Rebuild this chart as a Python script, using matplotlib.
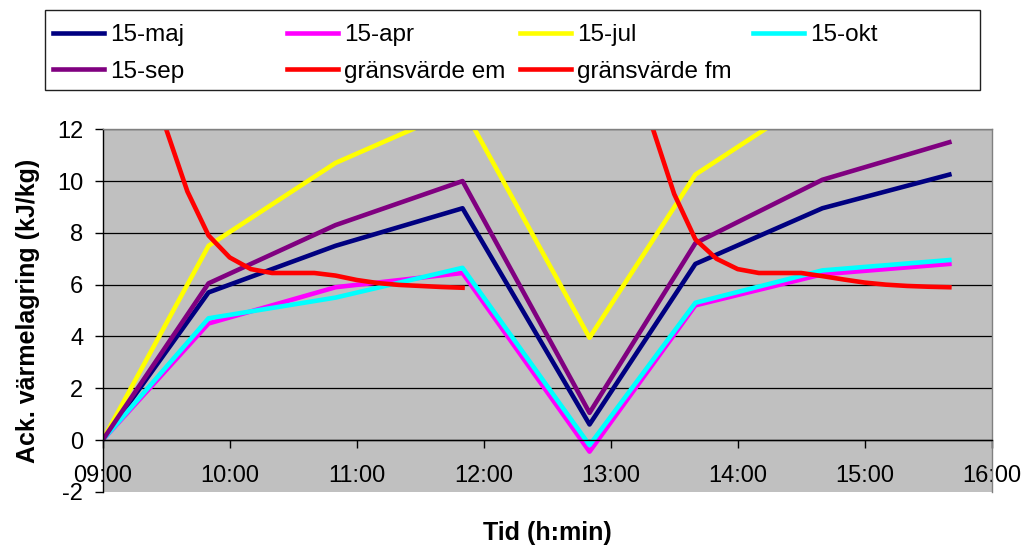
import matplotlib
matplotlib.use('Agg')
import matplotlib.pyplot as plt
from matplotlib.patches import Rectangle
from matplotlib.ticker import FuncFormatter

plt.rcParams['font.family'] = ['Liberation Sans', 'DejaVu Sans']
plt.rcParams['axes.unicode_minus'] = False

# mätdata
tider = ["09:00", "09:50", "10:50", "11:50", "12:50", "13:40", "14:40", "15:40"]
maj = [0, 5.7, 7.5, 8.95, 0.6, 6.8, 8.95, 10.25]
apr = [0, 4.5, 5.9, 6.45, -0.45, 5.2, 6.4, 6.8]
jul = [0, 7.5, 10.7, 12.85, 3.95, 10.25, 13.45, 14.5]
okt = [0, 4.7, 5.5, 6.65, -0.2, 5.3, 6.55, 6.95]
sep = [0, 6.05, 8.3, 10.0, 1.05, 7.6, 10.05, 11.5]

tider_fm = ["09:20", "09:30", "09:40", "09:50", "10:00", "10:10", "10:20", "10:30",
            "10:40", "10:50", "11:00", "11:10", "11:20", "11:30", "11:40", "11:50"]
grans_fm = [15.0, 12.0, 9.6, 7.9, 7.05, 6.6, 6.45, 6.45,
            6.45, 6.35, 6.18, 6.06, 5.99, 5.95, 5.91, 5.88]
tider_em = ["13:10", "13:20", "13:30", "13:40", "13:50", "14:00", "14:10", "14:20",
            "14:30", "14:40", "14:50", "15:00", "15:10", "15:20", "15:30", "15:40"]
grans_em = [15.0, 12.0, 9.5, 7.75, 7.0, 6.6, 6.45, 6.45,
            6.45, 6.33, 6.2, 6.08, 6.0, 5.95, 5.92, 5.9]

def timmar(lista):
    return [int(t[:2]) + int(t[3:]) / 60 for t in lista]

x = timmar(tider)

fig = plt.figure(figsize=(10.25, 5.49), dpi=100)
ax = fig.add_axes([0.1002, 0.1042, 0.8673, 0.6603])
ax.set_facecolor('#C0C0C0')

lw = 3.3
l_maj, = ax.plot(x, maj, color='#000080', lw=lw, label='15-maj')
l_apr, = ax.plot(x, apr, color='#FF00FF', lw=lw, label='15-apr')
l_jul, = ax.plot(x, jul, color='#FFFF00', lw=lw, label='15-jul')
l_okt, = ax.plot(x, okt, color='#00FFFF', lw=lw, label='15-okt')
l_sep, = ax.plot(x, sep, color='#800080', lw=lw, label='15-sep')
l_em, = ax.plot(timmar(tider_em), grans_em, color='#FF0000', lw=lw, label='gränsvärde em')
l_fm, = ax.plot(timmar(tider_fm), grans_fm, color='#FF0000', lw=lw, label='gränsvärde fm')

ax.set_xlim(9, 16)
ax.set_ylim(-2, 12)
ax.set_xticks(range(9, 17))
ax.set_yticks(range(-2, 13, 2))
ax.xaxis.set_major_formatter(FuncFormatter(lambda v, p: '%02d:00' % int(round(v))))

ax.grid(axis='y', color='black', lw=0.9)
ax.set_axisbelow(True)
ax.yaxis.get_gridlines()[0].set_visible(False)

ax.spines['bottom'].set_position(('data', 0))
ax.spines['bottom'].set_color('black')
ax.spines['left'].set_color('black')
ax.spines['top'].set_color('#808080')
ax.spines['right'].set_color('#808080')
for s in ax.spines.values():
    s.set_linewidth(1)

ax.tick_params(axis='x', direction='out', length=6, width=1, pad=12, labelsize=17)
ax.tick_params(axis='y', direction='out', length=6, width=1, pad=8, labelsize=17)

ax.set_ylabel('Ack. värmelagring (kJ/kg)', fontsize=18, fontweight='bold', labelpad=12)
fig.text(0.5337, 0.029, 'Tid (h:min)', fontsize=18, fontweight='bold', ha='center', va='center')

# legend i fyra kolumner med ram runt
fig.add_artist(Rectangle((45 / 1025, 1 - 90 / 549), 935 / 1025, 80 / 549,
                         transform=fig.transFigure, fill=False, ec='#202020', lw=1))
kolumner = [([l_maj, l_sep], 53), ([l_apr, l_em], 287), ([l_jul, l_fm], 520), ([l_okt], 753)]
for linjer, px in kolumner:
    fig.legend(handles=linjer, loc='upper left', bbox_to_anchor=(px / 1025, 1 - 24 / 549),
               frameon=False, fontsize=17.5, borderpad=0, borderaxespad=0,
               handlelength=2.1, handletextpad=0.25, labelspacing=0.6)

fig.savefig('out.png', dpi=100)
